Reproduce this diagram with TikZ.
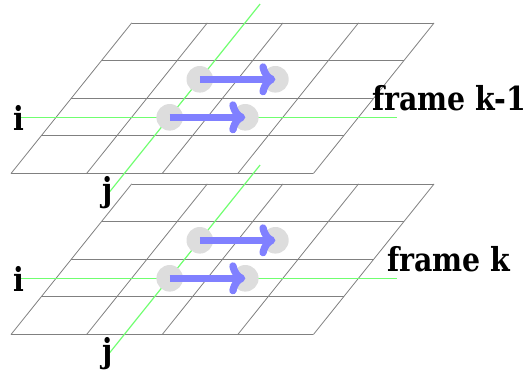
\documentclass[tikz,border=0pt]{standalone}
\usepackage{fontspec}
\setmainfont{DejaVu Serif}[FakeStretch=0.86]
\usetikzlibrary{arrows.meta}
\definecolor{gridgray}{HTML}{808080}
\definecolor{lgreen}{HTML}{70FF70}
\definecolor{dotgray}{HTML}{DDDDDD}
\definecolor{arrblue}{HTML}{8080FF}
\begin{document}
\begin{tikzpicture}[x=1bp,y=-1bp,
  gridline/.style={draw=gridgray,line width=0.8bp},
  axisline/.style={draw=lgreen,line width=1.2bp},
  blob/.style={circle,fill=dotgray,minimum size=26.6bp,inner sep=0pt},
  motion/.style={draw=arrblue,line width=7.3bp,-{To[length=16bp,width=32bp]}},
  lab/.style={font=\bfseries\fontsize{33bp}{38bp}\selectfont,inner sep=0pt}]
\useasboundingbox (0,0) rectangle (528,374);
% ---------- frame k-1 ----------
\begin{scope}
  \foreach \v in {0,...,4}
    \draw[gridline] ({11+30.175*\v},{173.5-37.65*\v}) -- ++(302.4,0);
  \foreach \u in {0,...,4}
    \draw[gridline] ({11+75.6*\u},173.5) -- ++(120.7,-150.6);
  \coordinate (iA0) at (20,117.5);
  \coordinate (iA1) at (396.7,117.5);
  \coordinate (jA0) at (109.7,191.7);
  \coordinate (jA1) at (260.1,4);
  \draw[axisline] (iA0) -- (iA1);
  \draw[axisline] (jA0) -- (jA1);
  \node[blob] (pA1) at (169.7,117.3) {};
  \node[blob] (qA1) at (245.3,117.3) {};
  \node[blob] (pA2) at (199.8,79.3) {};
  \node[blob] (qA2) at (275.4,79.3) {};
  \draw[motion] (pA1.center) -- (qA1.center);
  \draw[motion] (pA2.center) -- (qA2.center);
  \node[lab,anchor=base] (iA) at (18.7,130.5) {i};
  \node[lab,anchor=base] (jA) at (108,201.5) {j};
  \node[lab,anchor=base west] (fA) at (372,110.7) {frame k-1};
\end{scope}
% ---------- frame k ----------
\begin{scope}[shift={(0,161)}]
  \foreach \v in {0,...,4}
    \draw[gridline] ({11+30.175*\v},{173.5-37.65*\v}) -- ++(302.4,0);
  \foreach \u in {0,...,4}
    \draw[gridline] ({11+75.6*\u},173.5) -- ++(120.7,-150.6);
  \coordinate (iB0) at (20,117.5);
  \coordinate (iB1) at (396.7,117.5);
  \coordinate (jB0) at (109.7,191.7);
  \coordinate (jB1) at (260.1,4);
  \draw[axisline] (iB0) -- (iB1);
  \draw[axisline] (jB0) -- (jB1);
  \node[blob] (pB1) at (169.7,117.3) {};
  \node[blob] (qB1) at (245.3,117.3) {};
  \node[blob] (pB2) at (199.8,79.3) {};
  \node[blob] (qB2) at (275.4,79.3) {};
  \draw[motion] (pB1.center) -- (qB1.center);
  \draw[motion] (pB2.center) -- (qB2.center);
  \node[lab,anchor=base] (iB) at (18.7,130.5) {i};
  \node[lab,anchor=base] (jB) at (108,201.5) {j};
\end{scope}
\node[lab,anchor=base west] (fB) at (387,271.7) {frame k};
\end{tikzpicture}
\end{document}
